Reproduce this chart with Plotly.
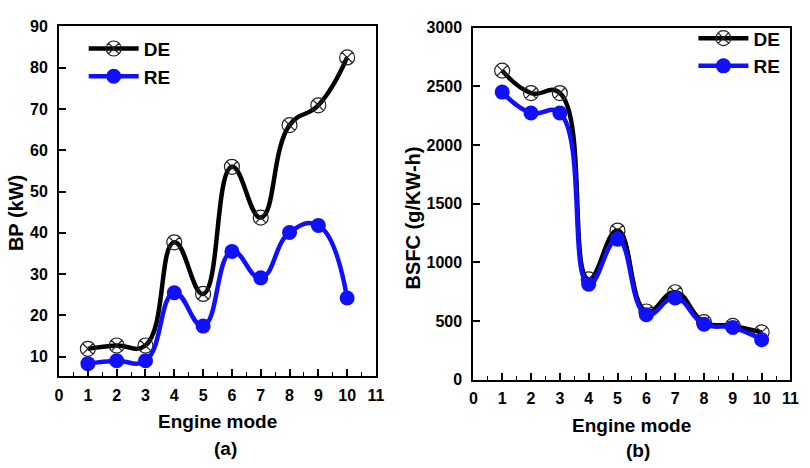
import plotly.graph_objects as go

modes = [1, 2, 3, 4, 5, 6, 7, 8, 9, 10]
bp_de = [11.9, 12.7, 12.7, 37.7, 25.2, 56.0, 43.7, 66.1, 70.9, 82.5]
bp_re = [8.3, 9.0, 9.0, 25.5, 17.4, 35.5, 29.1, 40.1, 41.8, 24.2]
bsfc_de = [2635, 2444, 2444, 855, 1271, 581, 745, 490, 458, 403]
bsfc_re = [2452, 2274, 2274, 813, 1197, 554, 696, 472, 444, 340]
x_ticks = list(range(0, 12))
bp_ticks = [10, 20, 30, 40, 50, 60, 70, 80, 90]
bsfc_ticks = [0, 500, 1000, 1500, 2000, 2500, 3000]

FONT = "Liberation Sans, Arial, sans-serif"
BLUE = "#1010ff"

fig = go.Figure()

def add_pair(xa, ya, de, re, leg):
    fig.add_trace(go.Scatter(
        x=modes, y=de, name="<b>DE</b>", mode="lines+markers",
        line=dict(color="black", width=4.5, shape="spline", smoothing=1.3),
        marker=dict(symbol="circle-x-open", size=15, color="#222",
                    line=dict(width=1.2, color="#222")),
        xaxis=xa, yaxis=ya, legend=leg))
    fig.add_trace(go.Scatter(
        x=modes, y=re, name="<b>RE</b>", mode="lines+markers",
        line=dict(color=BLUE, width=4.5, shape="spline", smoothing=1.3),
        marker=dict(symbol="circle", size=15, color=BLUE),
        xaxis=xa, yaxis=ya, legend=leg))

add_pair("x", "y", bp_de, bp_re, "legend")
add_pair("x2", "y2", bsfc_de, bsfc_re, "legend2")

def bold(vals):
    return ["<b>%s</b>" % v for v in vals]

axis_common = dict(
    showgrid=False, zeroline=False, showline=True, linecolor="black", linewidth=2,
    mirror=True, ticks="inside", ticklen=7, tickwidth=1.5, tickcolor="black",
    tickfont=dict(family=FONT, size=16, color="black"),
)
minor = dict(ticks="inside", ticklen=4, dtick=0.5, tickcolor="black", tickwidth=1)

fig.update_layout(
    width=810, height=468, margin=dict(l=0, r=0, t=0, b=0),
    plot_bgcolor="white", paper_bgcolor="white",
    font=dict(family=FONT, color="black"),
    xaxis=dict(domain=[0.0691, 0.4667], range=[0, 11], tickvals=x_ticks, ticktext=bold(x_ticks),
               minor=minor, anchor="y", ticklabelstandoff=3, **axis_common),
    yaxis=dict(domain=[0.183, 0.959], range=[5.2, 90], tickvals=bp_ticks, ticktext=bold(bp_ticks),
               anchor="x", ticklabelstandoff=6, **axis_common),
    xaxis2=dict(domain=[0.5889, 0.9868], range=[0, 11], tickvals=x_ticks, ticktext=bold(x_ticks),
                minor=minor, anchor="y2", ticklabelstandoff=3, **axis_common),
    yaxis2=dict(domain=[0.176, 0.956], range=[0, 3000], tickvals=bsfc_ticks, ticktext=bold(bsfc_ticks),
                anchor="x2", ticklabelstandoff=6, **axis_common),
    legend=dict(x=0.1, y=0.952, xanchor="left", yanchor="top", bgcolor="rgba(0,0,0,0)",
                font=dict(family=FONT, size=19, color="black"), itemwidth=50,
                tracegroupgap=0),
    legend2=dict(x=0.865, y=0.975, xanchor="left", yanchor="top", bgcolor="rgba(0,0,0,0)",
                 font=dict(family=FONT, size=19, color="black"), itemwidth=50,
                 tracegroupgap=0),
    showlegend=True,
)

def ann(text, px, py, angle=0, size=19):
    fig.add_annotation(text="<b>%s</b>" % text, x=px / 810, y=1 - py / 468, xref="paper", yref="paper",
                       showarrow=False, font=dict(family=FONT, size=size, color="black"),
                       textangle=angle, xanchor="center", yanchor="middle")

ann("Engine mode", 217, 429)
ann("(a)", 225, 457)
ann("Engine mode", 638, 433)
ann("(b)", 644, 459)
ann("BP (kW)", 12, 213, -90, 20)
ann("BSFC (g/KW-h)", 416, 218, -90, 20)

fig.write_html("out.html")
